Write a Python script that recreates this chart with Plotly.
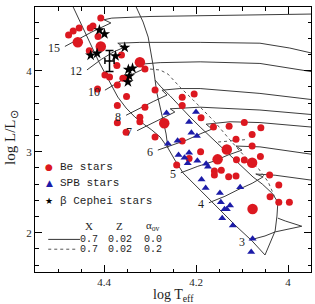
import plotly.graph_objects as go

# ---------------- data (log Teff, log L/Lsun) ----------------
# Be stars (normal symbols)
be_logT = [4.407, 4.424, 4.430, 4.454, 4.467, 4.477, 4.413, 4.432, 4.362, 4.311,
           4.372, 4.398, 4.388, 4.359, 4.352, 4.371, 4.414, 4.289, 4.351, 4.371,
           4.311, 4.322, 4.322, 4.371, 4.352, 4.289, 4.230, 4.204, 4.230, 4.189,
           4.230, 4.162, 4.128, 4.095, 4.059, 4.078, 4.113, 4.078, 4.190, 4.215,
           4.112, 4.095, 4.060, 4.242, 4.160, 4.160, 4.145, 4.129, 4.113, 4.040,
           4.020, 4.039, 4.020, 3.997]
be_logL = [4.651, 4.552, 4.527, 4.527, 4.490, 4.441, 4.422, 4.247, 4.194, 4.021,
           4.064, 3.947, 3.922, 3.906, 3.906, 3.824, 3.774, 3.762, 3.682, 3.571,
           3.548, 3.425, 3.370, 3.358, 3.240, 3.182, 3.672, 3.713, 3.571, 3.420,
           3.132, 3.305, 3.314, 3.361, 3.296, 3.212, 3.153, 3.071, 3.000, 2.916,
           2.900, 2.898, 2.941, 2.836, 2.762, 2.713, 2.771, 2.690, 2.700, 2.713,
           2.589, 2.445, 2.375, 2.375]
# Be stars drawn with the bigger symbol
be_big_logT = [4.457, 4.407, 4.322, 4.269, 4.133, 4.153, 4.078, 4.077]
be_big_logL = [4.351, 4.299, 4.104, 3.351, 3.027, 2.906, 2.864, 2.293]

# SPB stars
spb_logT = [4.264, 4.200, 4.215, 4.210, 4.198, 4.261, 4.240, 4.238, 4.215, 4.225,
            4.218, 4.197, 4.178, 4.174, 4.188, 4.179, 4.148, 4.104, 4.146, 4.126,
            4.138, 4.133, 4.143, 4.120, 4.077, 4.080]
spb_logL = [3.478, 3.490, 3.367, 3.235, 3.194, 3.098, 3.136, 2.959, 2.988, 2.925,
            2.857, 2.888, 2.851, 2.815, 2.657, 2.552, 2.490, 2.561, 2.375, 2.336,
            2.289, 2.289, 2.178, 2.089, 1.926, 1.762]

# beta Cephei stars
bcep_logT = [4.410, 4.399, 4.355, 4.429, 4.415, 4.375, 4.347, 4.338, 4.345, 4.348]
bcep_logL = [4.503, 4.453, 4.287, 4.190, 4.215, 4.182, 4.015, 4.030, 3.935, 3.861]

# typical error bar
err_logT, err_logL = 4.388, 4.12
err_dlogT, err_dlogL = 0.01, 0.13

# evolutionary tracks (alpha_ov = 0.0), masses in Msun
track_masses = [15, 12, 10, 8, 7, 6, 5, 4, 3]
track15_logT = [4.485, 4.456, 4.426, 4.400, 4.385, 4.400, 4.383, 4.300, 4.191, 4.083, 3.95]
track15_logL = [4.30, 4.39, 4.48, 4.55, 4.59, 4.63, 4.65, 4.67, 4.68, 4.69, 4.70]
track12_logT = [4.437, 4.406, 4.380, 4.356, 4.370, 4.322, 4.191, 4.061, 3.996, 3.95]
track12_logL = [4.01, 4.14, 4.23, 4.29, 4.34, 4.35, 4.35, 4.34, 4.28, 4.22]
track10_logT = [4.398, 4.372, 4.341, 4.311, 4.322, 4.278, 4.191, 4.061, 3.95]
track10_logL = [3.76, 3.85, 3.95, 4.03, 4.08, 4.10, 4.11, 4.09, 3.99]
track8_logT = [4.352, 4.322, 4.293, 4.263, 4.274, 4.235, 4.191, 4.061, 3.95]
track8_logL = [3.45, 3.54, 3.62, 3.70, 3.76, 3.78, 3.78, 3.72, 3.645]
track7_logT = [4.328, 4.300, 4.278, 4.246, 4.256, 4.191, 4.061, 3.95]
track7_logL = [3.26, 3.34, 3.40, 3.49, 3.53, 3.55, 3.515, 3.46]
track6_logT = [4.283, 4.246, 4.220, 4.191, 4.165, 4.178, 4.126, 4.061, 3.95]
track6_logL = [3.02, 3.095, 3.145, 3.22, 3.28, 3.34, 3.37, 3.36, 3.305]
track5_logT = [4.233, 4.196, 4.163, 4.130, 4.100, 4.113, 4.061, 3.95]
track5_logL = [2.74, 2.82, 2.88, 2.96, 3.02, 3.07, 3.06, 2.97]
track4_logT = [4.172, 4.137, 4.109, 4.078, 4.054, 4.070, 4.028, 3.95]
track4_logL = [2.37, 2.45, 2.53, 2.61, 2.69, 2.725, 2.71, 2.65]
track3_logT = [4.083, 4.050, 4.028, 3.996, 3.970, 4.006, 4.022]
track3_logL = [1.91, 1.96, 2.01, 2.05, 2.08, 2.145, 2.18]

# instability strip edges (alpha_ov = 0.0)
blue_edge_logT = [4.467, 4.452, 4.437, 4.424, 4.411, 4.398, 4.383, 4.370, 4.352, 4.333,
                  4.311, 4.296, 4.278, 4.261, 4.246, 4.228, 4.191, 4.152, 4.113, 4.078, 4.050]
blue_edge_logL = [4.787, 4.601, 4.416, 4.256, 4.108, 3.972, 3.811, 3.675, 3.540, 3.429,
                  3.330, 3.268, 3.182, 3.046, 2.898, 2.737, 2.527, 2.305, 2.083, 1.898, 1.725]
bcep_red_edge_logT = [4.330, 4.315, 4.304, 4.298, 4.293, 4.289, 4.285, 4.278, 4.272, 4.265, 4.261]
bcep_red_edge_logL = [4.787, 4.601, 4.416, 4.231, 4.058, 3.885, 3.725, 3.552, 3.392, 3.219, 3.046]
spb_red_edge_logT = [4.050, 4.039, 4.028, 4.024, 4.022, 4.035, 4.056, 4.076, 4.104, 4.137,
                     4.165, 4.191, 4.213, 4.235, 4.256, 4.278, 4.289]
spb_red_edge_logL = [1.725, 1.873, 2.021, 2.206, 2.379, 2.490, 2.601, 2.688, 2.836, 3.021,
                     3.169, 3.305, 3.429, 3.564, 3.688, 3.811, 3.885]
# alpha_ov = 0.2 (dotted)
ov_edge_logT = [4.300, 4.278, 4.261, 4.235, 4.206, 4.180, 4.159, 4.126, 4.093, 4.065,
                4.043, 4.028, 4.022]
ov_edge_logL = [4.021, 4.009, 3.959, 3.799, 3.638, 3.490, 3.367, 3.145, 2.935, 2.799,
                2.626, 2.429, 2.379]
ov_hook_logT = [4.152, 4.089]
ov_hook_logL = [3.120, 3.151]

# legend table
table_header = ["X", "Z", "α<sub>ov</sub>"]
table_row_solid = ["0.7", "0.02", "0.0"]
table_row_dotted = ["0.7", "0.02", "0.2"]

# ---------------- figure ----------------
SERIF = "Liberation Serif"
MONO = "Liberation Mono"
INK = "#1e1e1e"
LINE = dict(color="#3c3c3c", width=1)
DOT = dict(color="#555555", width=1, dash="dot")

fig = go.Figure()

tracks = [
    (track15_logT, track15_logL), (track12_logT, track12_logL), (track10_logT, track10_logL),
    (track8_logT, track8_logL), (track7_logT, track7_logL), (track6_logT, track6_logL),
    (track5_logT, track5_logL), (track4_logT, track4_logL), (track3_logT, track3_logL),
]
for m, (T, L) in zip(track_masses, tracks):
    fig.add_trace(go.Scatter(x=T, y=L, mode="lines", line=LINE, hoverinfo="skip"))
    fig.add_annotation(x=T[0], y=L[0], text=str(m), showarrow=False,
                       xanchor="right", yanchor="middle", xshift=-3, yshift=-1.5,
                       font=dict(family=SERIF, size=12, color=INK))

for T, L, st in [(blue_edge_logT, blue_edge_logL, LINE),
                 (bcep_red_edge_logT, bcep_red_edge_logL, LINE),
                 (spb_red_edge_logT, spb_red_edge_logL, LINE),
                 (ov_edge_logT, ov_edge_logL, DOT),
                 (ov_hook_logT, ov_hook_logL, DOT)]:
    fig.add_trace(go.Scatter(x=T, y=L, mode="lines", line=st, hoverinfo="skip"))

RED = "#dc1820"
BLUE = "#1c1ca8"
fig.add_trace(go.Scatter(x=be_logT, y=be_logL, mode="markers",
                         marker=dict(color=RED, size=7, line=dict(width=0))))
fig.add_trace(go.Scatter(x=be_big_logT, y=be_big_logL, mode="markers",
                         marker=dict(color=RED, size=10.5, line=dict(width=0))))
fig.add_trace(go.Scatter(x=spb_logT, y=spb_logL, mode="markers",
                         marker=dict(color=BLUE, size=7, symbol="triangle-up", line=dict(width=0))))
fig.add_trace(go.Scatter(x=bcep_logT, y=bcep_logL, mode="markers",
                         marker=dict(color="black", size=8.5, symbol="star", line=dict(width=0))))
fig.add_trace(go.Scatter(x=[err_logT], y=[err_logL], mode="markers",
                         marker=dict(color="black", size=2),
                         error_x=dict(type="data", array=[err_dlogT], width=3, thickness=1.5, color="black"),
                         error_y=dict(type="data", array=[err_dlogL], width=4, thickness=1.5, color="black")))

# legend (symbols + text)
leg_font = dict(family=MONO, size=11, color=INK)
for sym, col, label, yy in [("●", RED, "Be stars", 0.395),
                            ("▲", BLUE, "SPB stars", 0.335),
                            ("★", "black", "β Cephei stars", 0.269)]:
    fig.add_annotation(xref="paper", yref="paper", x=0.051, y=yy, text=sym, showarrow=False,
                       xanchor="center", yanchor="middle", font=dict(family="DejaVu Sans", size=9, color=col))
    fig.add_annotation(xref="paper", yref="paper", x=0.083, y=yy, text=label, showarrow=False,
                       xanchor="left", yanchor="middle", font=leg_font)

col_x = [0.194, 0.307, 0.428]
tab_font = dict(family=MONO, size=10, color=INK)
for txt, cx in zip(table_header, col_x):
    fig.add_annotation(xref="paper", yref="paper", x=cx, y=0.175, text=txt, showarrow=False,
                       xanchor="center", yanchor="middle", font=dict(family=SERIF, size=11, color=INK))
for row, yy in [(table_row_solid, 0.123), (table_row_dotted, 0.086)]:
    for txt, cx in zip(row, col_x):
        fig.add_annotation(xref="paper", yref="paper", x=cx, y=yy, text=txt, showarrow=False,
                           xanchor="center", yanchor="middle", font=tab_font)
fig.add_shape(type="line", xref="paper", yref="paper", x0=0.048, x1=0.163, y0=0.123, y1=0.123,
              line=dict(color="#333", width=1))
fig.add_shape(type="line", xref="paper", yref="paper", x0=0.048, x1=0.151, y0=0.086, y1=0.086,
              line=dict(color="#555", width=1, dash="dot"))

# axis titles
fig.add_annotation(xref="paper", yref="paper", x=0.502, y=-0.088, text="log T<sub>eff</sub>",
                   showarrow=False, xanchor="center", yanchor="middle",
                   font=dict(family=SERIF, size=14, color=INK))
fig.add_annotation(xref="paper", yref="paper", x=-0.087, y=0.506, text="log L/L<sub>⊙</sub>",
                   showarrow=False, textangle=-90, xanchor="center", yanchor="middle",
                   font=dict(family=SERIF, size=15, color=INK))

axis_common = dict(ticks="inside", tickcolor="black", tickwidth=1, showline=True,
                   linecolor="black", linewidth=1, mirror="allticks", showgrid=False,
                   zeroline=False, tickfont=dict(family=SERIF, size=11, color=INK))
fig.update_xaxes(range=[4.55, 3.95], tickvals=[4.4, 4.2, 4.0], ticktext=["4.4", "4.2", "4"],
                 ticklen=7, minor=dict(dtick=0.05, ticks="inside", ticklen=3.5, tickcolor="black",
                                       showgrid=False), **axis_common)
fig.update_yaxes(range=[1.515, 4.787], tickvals=[2, 3, 4], ticktext=["2", "3", "4"],
                 ticklen=7, minor=dict(dtick=0.2, ticks="inside", ticklen=3.5, tickcolor="black",
                                       showgrid=False), **axis_common)

fig.update_layout(width=315, height=304, margin=dict(l=35, r=4, t=7, b=32),
                  paper_bgcolor="white", plot_bgcolor="white", showlegend=False)

fig.write_html("out.html")
